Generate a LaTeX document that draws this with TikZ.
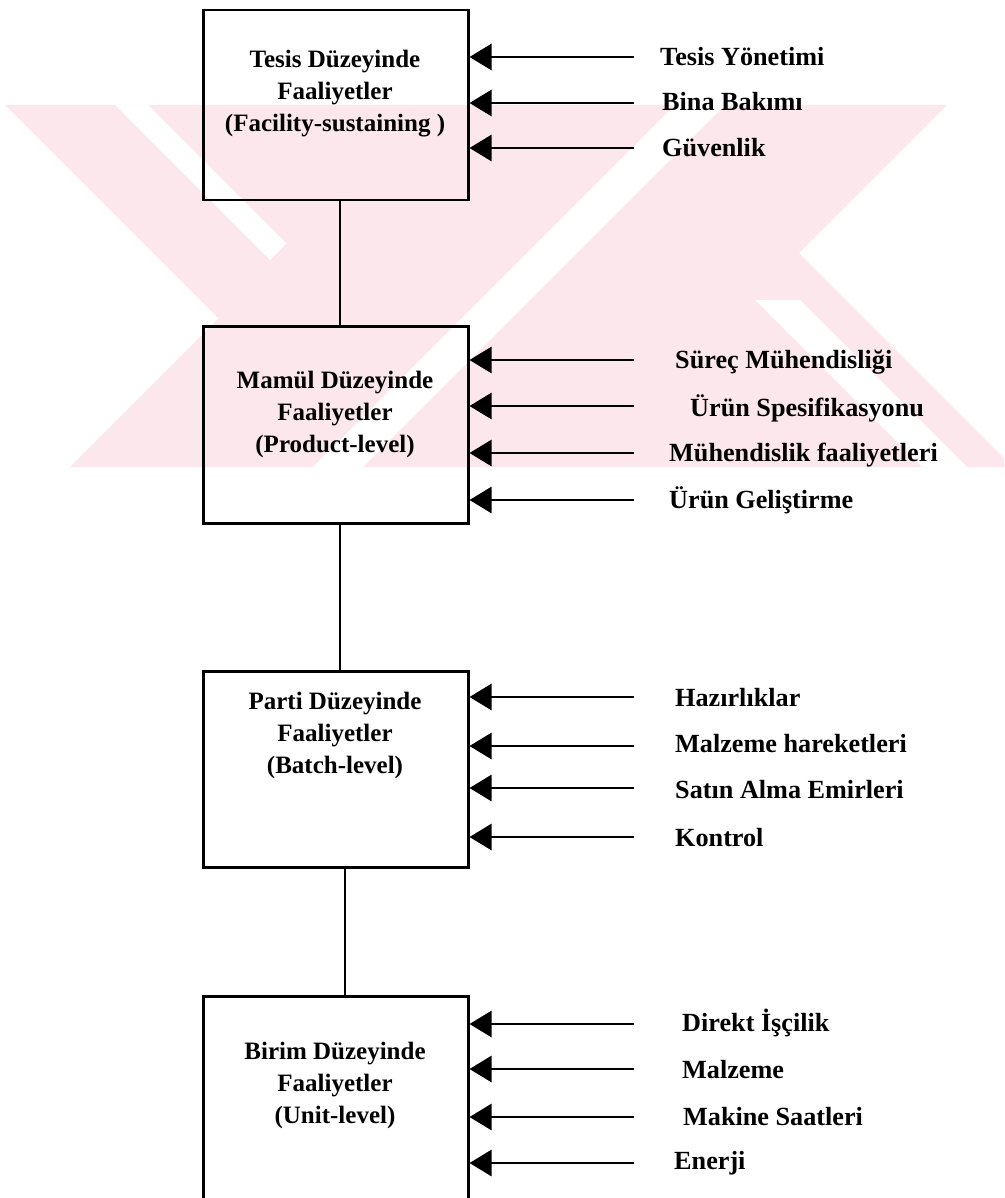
\documentclass[tikz,border=0pt]{standalone}
\usepackage{fontspec}
\setmainfont{Liberation Serif}
\usetikzlibrary{arrows.meta}
\definecolor{wmpink}{RGB}{252,232,236}
\tikzset{
  level/.style={draw, line width=2.5pt, minimum width=265pt, inner sep=0pt, anchor=north west},
  boxtext/.style={align=center, font=\bfseries\fontsize{25}{32}\selectfont, inner sep=0pt},
  itemtext/.style={anchor=west, font=\bfseries\fontsize{26.2}{32}\selectfont, inner sep=0pt},
  feed/.style={line width=2.8pt, -{Triangle[length=22pt,width=26pt]}},
  link/.style={line width=2.2pt},
}
\begin{document}
\begin{tikzpicture}[x=1pt,y=-1pt]
\useasboundingbox (0,0) rectangle (1004,1198);
\fill[white] (0,0) rectangle (1004,1198);

% background emblem in pale pink
\begin{scope}
  \clip (0,105) rectangle (1004,467);
  \fill[wmpink] (5,105) -- (947,105) -- (799,253) -- (1013,467) -- (70,467) -- (218.5,318.5) -- cycle;
  \fill[white] (115,105) -- (148,105) -- (286.5,243.5) -- (270,260) -- cycle;
  \fill[white] (675,105) -- (725,105) -- (363,467) -- (313,467) -- cycle;
  \fill[white] (755,300) -- (800,300) -- (967,467) -- (922,467) -- cycle;
\end{scope}

% level boxes
\node[level, minimum height=190pt] (b1) at (202,9) {};
\node[level, minimum height=197pt] (b2) at (202,325) {};
\node[level, minimum height=196pt] (b3) at (202,670) {};
\node[level, minimum height=230pt] (b4) at (202,995) {};

\node[boxtext] (t1) at (335,94) {Tesis Düzeyinde\\Faaliyetler\\(Facility-sustaining )};
\node[boxtext] (t2) at (335,414) {Mamül Düzeyinde\\Faaliyetler\\(Product-level)};
\node[boxtext] (t3) at (335,735) {Parti Düzeyinde\\Faaliyetler\\(Batch-level)};
\node[boxtext] (t4) at (335,1085) {Birim Düzeyinde\\Faaliyetler\\(Unit-level)};

% vertical links between levels
\draw[link] (b1.south -| 340,0) -- (b2.north -| 340,0);
\draw[link] (b2.south -| 340,0) -- (b3.north -| 340,0);
\draw[link] (b3.south -| 345,0) -- (b4.north -| 345,0);

% activity items
\node[itemtext] (a11) at (660,57) {Tesis Yönetimi};
\node[itemtext] (a12) at (662,102) {Bina Bakımı};
\node[itemtext] (a13) at (662,148) {Güvenlik};

\node[itemtext] (a21) at (675,362) {Süreç Mühendisliği};
\node[itemtext] (a22) at (690,408) {Ürün Spesifikasyonu};
\node[itemtext] (a23) at (669,455) {Mühendislik faaliyetleri};
\node[itemtext] (a24) at (669,500) {Ürün Geliştirme};

\node[itemtext] (a31) at (675,698) {Hazırlıklar};
\node[itemtext] (a32) at (675,744) {Malzeme hareketleri};
\node[itemtext] (a33) at (675,790) {Satın Alma Emirleri};
\node[itemtext] (a34) at (675,838) {Kontrol};

\node[itemtext] (a41) at (682,1023) {Direkt İşçilik};
\node[itemtext] (a42) at (682,1070) {Malzeme};
\node[itemtext] (a43) at (683,1117) {Makine Saatleri};
\node[itemtext] (a44) at (674,1163) {Enerji};

% arrow tails
\foreach \n/\yy in {11/57,12/103,13/148,21/360,22/406,23/453,24/500,31/697,32/746,33/788,34/837,41/1024,42/1069,43/1117,44/1163}
  \coordinate (s\n) at (634,\yy);

\foreach \n in {11,12,13} \draw[feed] (s\n) -- (s\n -| b1.east);
\foreach \n in {21,22,23,24} \draw[feed] (s\n) -- (s\n -| b2.east);
\foreach \n in {31,32,33,34} \draw[feed] (s\n) -- (s\n -| b3.east);
\foreach \n in {41,42,43,44} \draw[feed] (s\n) -- (s\n -| b4.east);
\end{tikzpicture}
\end{document}
